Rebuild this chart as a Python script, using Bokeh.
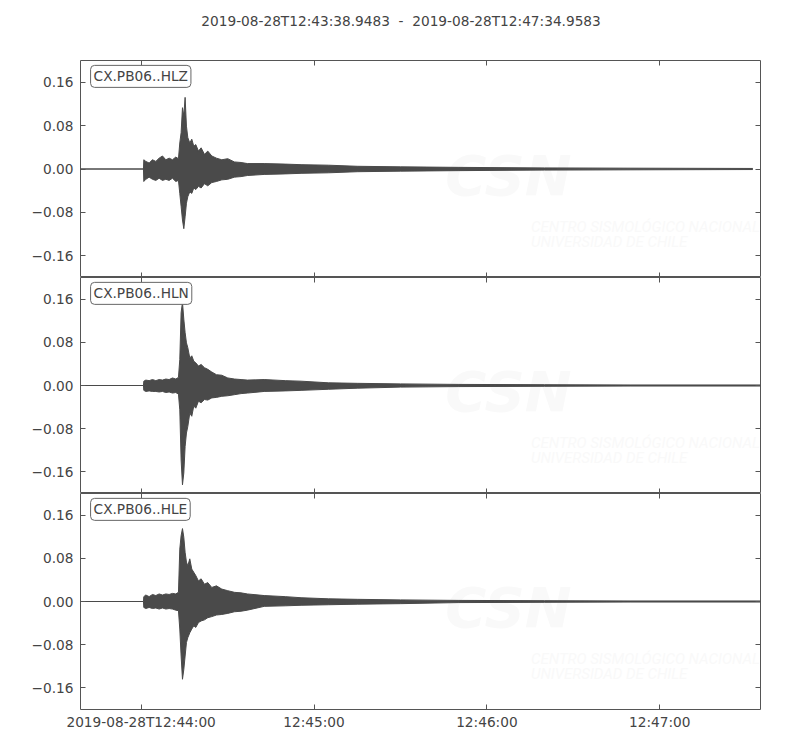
from bokeh.plotting import figure
from bokeh.layouts import column
from bokeh.models import (FixedTicker, LinearAxis, Label, Range1d,
                          CustomJSTickFormatter)
from bokeh.embed import file_html
from bokeh.resources import INLINE


# the two spaces around the dash are kept with no-break spaces (svg collapses them)
title_text = "2019-08-28T12:43:38.9483\u00a0\u00a0-\u00a0\u00a02019-08-28T12:47:34.9583"
channels = ["CX.PB06..HLZ", "CX.PB06..HLN", "CX.PB06..HLE"]

# time axis in seconds relative to 2019-08-28T12:44:00
t_start = -21.0517
t_end = 214.9583
x_ticks = [0, 60, 120, 180]
x_tick_labels = ["2019-08-28T12:44:00", "12:45:00", "12:46:00", "12:47:00"]
y_ticks = [-0.16, -0.08, 0.0, 0.08, 0.16]

# envelope of each trace (upper / lower peaks)
t_env = [-21.05, 0.8, 0.92, 1.62, 2.77, 3.93, 5.09, 6.24, 7.40, 8.56, 9.71,
         10.87, 12.02, 12.95, 13.41, 13.87, 14.34, 14.80, 15.26, 15.72,
         16.19, 16.88, 17.57, 18.27, 18.96, 19.89, 20.81, 21.97, 23.12,
         24.51, 26.13, 27.98, 30.06, 32.37, 34.68, 36.88, 42.7, 50.0, 55.5,
         65.0, 75.0, 90.0, 110.0, 140.0, 170.0]
trace_end = [212.3, 214.96, 214.96]

hlz_up = [0, 0, 0.017, 0.014, 0.011, 0.017, 0.014, 0.020, 0.024, 0.017, 0.020,
          0.017, 0.022, 0.019, 0.048, 0.067, 0.113, 0.098, 0.132, 0.079,
          0.058, 0.048, 0.055, 0.042, 0.045, 0.033, 0.039, 0.027, 0.033,
          0.024, 0.020, 0.017, 0.019, 0.013, 0.012, 0.010, 0.010, 0.009,
          0.008, 0.007, 0.005, 0.004, 0.003, 0.002, 0.0015, 0.001]
hlz_lo = [0, 0, -0.023, -0.019, -0.015, -0.019, -0.021, -0.017, -0.021, -0.019,
          -0.021, -0.017, -0.023, -0.021, -0.045, -0.069, -0.094, -0.110,
          -0.088, -0.063, -0.051, -0.042, -0.045, -0.035, -0.038, -0.032,
          -0.035, -0.027, -0.031, -0.025, -0.023, -0.020, -0.019, -0.015,
          -0.014, -0.012, -0.010, -0.009, -0.008, -0.007, -0.005, -0.004,
          -0.003, -0.002, -0.0015, -0.001]

hln_up = [0, 0, 0.008, 0.010, 0.009, 0.011, 0.009, 0.011, 0.010, 0.012, 0.011,
          0.014, 0.012, 0.015, 0.048, 0.135, 0.154, 0.123, 0.098, 0.079,
          0.070, 0.051, 0.055, 0.045, 0.042, 0.036, 0.039, 0.033, 0.030,
          0.025, 0.020, 0.019, 0.014, 0.012, 0.011, 0.010, 0.011, 0.009,
          0.008, 0.005, 0.004, 0.003, 0.002, 0.0015, 0.001, 0.001]
hln_lo = [0, 0, -0.009, -0.011, -0.010, -0.011, -0.011, -0.012, -0.011, -0.013,
          -0.012, -0.014, -0.013, -0.016, -0.045, -0.138, -0.184, -0.162,
          -0.113, -0.088, -0.076, -0.051, -0.057, -0.038, -0.042, -0.029,
          -0.032, -0.026, -0.027, -0.023, -0.022, -0.020, -0.019, -0.017,
          -0.015, -0.014, -0.011, -0.010, -0.009, -0.007, -0.005, -0.003,
          -0.002, -0.0015, -0.001, -0.001]

hle_up = [0, 0, 0.009, 0.012, 0.009, 0.013, 0.011, 0.014, 0.012, 0.014, 0.013,
          0.015, 0.014, 0.017, 0.097, 0.122, 0.135, 0.119, 0.091, 0.073,
          0.066, 0.079, 0.060, 0.054, 0.048, 0.038, 0.042, 0.032, 0.035,
          0.026, 0.029, 0.023, 0.020, 0.017, 0.016, 0.014, 0.011, 0.009,
          0.007, 0.005, 0.004, 0.003, 0.002, 0.0015, 0.001, 0.001]
hle_lo = [0, 0, -0.011, -0.013, -0.011, -0.013, -0.012, -0.014, -0.012, -0.014,
          -0.013, -0.014, -0.016, -0.017, -0.051, -0.101, -0.144, -0.126,
          -0.101, -0.076, -0.067, -0.058, -0.051, -0.045, -0.048, -0.039,
          -0.036, -0.034, -0.030, -0.028, -0.025, -0.024, -0.022, -0.019,
          -0.018, -0.016, -0.009, -0.008, -0.007, -0.006, -0.005, -0.004,
          -0.002, -0.0015, -0.001, -0.001]

uppers = [hlz_up, hln_up, hle_up]
lowers = [hlz_lo, hln_lo, hle_lo]

trace_color = "#4a4a4a"
frame_color = "#555555"
text_color = "#444444"
mark_color = "#f9f9f9"
font = "DejaVu Sans"
font_size = "13.7px"


def hide_labels(axis):
    axis.formatter = CustomJSTickFormatter(code="return ''")
    axis.major_label_text_font_size = "0px"
    axis.major_label_standoff = 0


def style_axis(axis, ticks):
    axis.ticker = FixedTicker(ticks=ticks)
    axis.major_tick_in = 5
    axis.major_tick_out = 0
    axis.minor_tick_line_color = None
    axis.axis_line_color = None
    axis.major_tick_line_color = frame_color
    axis.major_label_text_font = font
    axis.major_label_text_font_size = font_size
    axis.major_label_text_color = text_color


def make_title():
    # a strip of its own above the panels, only for the time span title
    p = figure(width=798, height=40, output_backend="svg",
               toolbar_location=None, x_axis_location=None,
               y_axis_location=None,
               x_range=Range1d(t_start, t_end), y_range=Range1d(0, 1),
               min_border_left=80, min_border_right=38,
               min_border_top=0, min_border_bottom=0)
    p.xgrid.visible = False
    p.ygrid.visible = False
    p.outline_line_color = None
    p.add_layout(Label(x=90.2, y=0.5, text=title_text, text_align="center",
                       text_baseline="middle", text_font=font,
                       text_font_size=font_size, text_color=text_color))
    return p


def make_panel(i):
    first = i == 0
    last = i == len(channels) - 1
    height = 216
    if first:
        height += 21
    if last:
        height += 38
    p = figure(width=798, height=height, output_backend="svg",
               toolbar_location=None,
               x_range=Range1d(t_start, t_end), y_range=Range1d(-0.2, 0.2),
               min_border_left=80, min_border_right=38,
               min_border_top=20 if first else 0,
               min_border_bottom=38 if last else 0)
    p.xgrid.visible = False
    p.ygrid.visible = False
    p.outline_line_color = frame_color
    p.outline_line_width = 1
    p.background_fill_color = "white"
    p.border_fill_color = "white"

    # faint CSN watermark
    p.add_layout(Label(x=127.5, y=-0.012, text="CSN", text_align="center",
                       text_baseline="middle", text_font=font,
                       text_font_size="56px", text_font_style="bold italic",
                       text_color=mark_color, level="underlay"))
    p.add_layout(Label(x=135.3, y=-0.106, text="CENTRO SISMOLÓGICO NACIONAL",
                       text_align="left", text_baseline="middle",
                       text_font="Roboto", text_font_size="15px",
                       text_font_style="italic", text_color=mark_color,
                       level="underlay"))
    p.add_layout(Label(x=135.3, y=-0.134, text="UNIVERSIDAD DE CHILE",
                       text_align="left", text_baseline="middle",
                       text_font="Roboto", text_font_size="15px",
                       text_font_style="italic", text_color=mark_color,
                       level="underlay"))

    t = t_env + [trace_end[i]]
    p.varea(x=t, y1=lowers[i], y2=uppers[i], fill_color=trace_color)
    p.line(t, uppers[i], line_color=trace_color, line_width=1)
    p.line(t, lowers[i], line_color=trace_color, line_width=1)

    # axes: ticks on all four sides, labels left and (last panel) bottom
    style_axis(p.yaxis[0], y_ticks)
    p.yaxis[0].major_label_standoff = 7
    p.yaxis[0].formatter = CustomJSTickFormatter(
        code="return (tick < 0 ? '\u2212' : '') + Math.abs(tick).toFixed(2);")
    style_axis(p.xaxis[0], x_ticks)
    if last:
        p.xaxis[0].major_label_standoff = 4
        p.xaxis[0].major_label_overrides = dict(zip(x_ticks, x_tick_labels))
    else:
        hide_labels(p.xaxis[0])
    right = LinearAxis()
    style_axis(right, y_ticks)
    hide_labels(right)
    p.add_layout(right, "right")
    top = LinearAxis()
    style_axis(top, x_ticks)
    hide_labels(top)
    p.add_layout(top, "above")

    p.add_layout(Label(x=-17.55, y=0.191, text=channels[i], anchor="top_left",
                       text_font=font, text_font_size=font_size,
                       text_color=text_color, background_fill_color="white",
                       border_line_color="#666666", border_line_width=1,
                       border_radius=4, padding=3))
    return p


panels = [make_title()] + [make_panel(i) for i in range(len(channels))]
layout = column(*panels, spacing=0)

open("out.html", "w").write(file_html(layout, INLINE))
